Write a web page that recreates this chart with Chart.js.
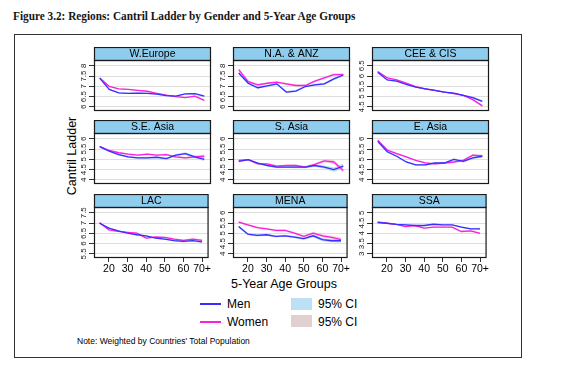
<!DOCTYPE html>
<html>
<head>
<meta charset="utf-8">
<script src="https://cdn.jsdelivr.net/npm/chart.js@4.4.1/dist/chart.umd.min.js"></script>
<style>
	body {
		margin: 0;
		background: #fff;
		width: 581px;
		height: 368px;
		position: relative;
		overflow: hidden;
		font-family: "Liberation Sans", Arial, sans-serif;
		color: #000;
	}
	#title { position: absolute; left: 13px; top: 9px; font: bold 11.8px "Liberation Serif", serif; color: #151515; transform: scaleX(0.955); transform-origin: left center; }
	#box { position: absolute; left: 14px; top: 34px; width: 506px; height: 322px; border: 1px solid #333; }
	canvas { position: absolute; }
	.txt { position: absolute; white-space: nowrap; }
	.sw { position: absolute; }
</style>
</head>
<body>
<div id="title">Figure 3.2: Regions: Cantril Ladder by Gender and 5-Year Age Groups</div>
<div id="box"></div>
<div class="txt" style="left:72px;top:156px;font-size:12.5px;transform:translate(-50%,-50%) rotate(-90deg);">Cantril Ladder</div>
<div class="txt" style="left:284px;top:284px;font-size:12.5px;transform:translate(-50%,-50%);">5-Year Age Groups</div>
<div class="sw" style="left:200px;top:303px;width:21px;height:1.5px;background:#3b2cff;"></div>
<div class="txt" style="left:227px;top:297px;font-size:12px;">Men</div>
<div class="sw" style="left:291px;top:298px;width:21px;height:12px;background:#bde0f5;"></div>
<div class="txt" style="left:318px;top:297px;font-size:12px;">95% CI</div>
<div class="sw" style="left:200px;top:321px;width:21px;height:1.5px;background:#ff1ee0;"></div>
<div class="txt" style="left:227px;top:315px;font-size:12px;">Women</div>
<div class="sw" style="left:291px;top:315px;width:21px;height:12px;background:#e2cfcf;"></div>
<div class="txt" style="left:318px;top:315px;font-size:12px;">95% CI</div>
<div class="txt" style="left:77px;top:336px;font-size:8.5px;">Note: Weighted by Countries' Total Population</div>

<script type="text/javascript">
	// age groups (15-19 ... 70+)
	var ages = [15, 20, 25, 30, 35, 40, 45, 50, 55, 60, 65, 70];
	var xTicks = [20, 30, 40, 50, 60, 70];
	var regions = ['W.Europe', 'N.A. & ANZ', 'CEE & CIS', 'S.E. Asia', 'S. Asia', 'E. Asia', 'LAC', 'MENA', 'SSA'];
	// lowest tick label of each panel (5 ticks, 0.5 apart)
	var axisLow = [6, 6, 4.5, 4, 4, 4, 5.5, 4, 3];

	var menWEurope   = [7.40, 6.85, 6.68, 6.66, 6.67, 6.66, 6.62, 6.55, 6.52, 6.63, 6.64, 6.52];
	var womenWEurope = [7.40, 7.00, 6.88, 6.85, 6.80, 6.76, 6.66, 6.57, 6.50, 6.45, 6.52, 6.32];
	var menNAANZ     = [7.65, 7.15, 6.93, 7.02, 7.12, 6.72, 6.77, 6.99, 7.07, 7.12, 7.36, 7.55];
	var womenNAANZ   = [7.81, 7.23, 7.07, 7.15, 7.20, 7.12, 7.04, 7.04, 7.25, 7.41, 7.57, 7.57];
	var menCEE       = [6.18, 5.81, 5.75, 5.59, 5.46, 5.38, 5.30, 5.22, 5.17, 5.06, 4.95, 4.77];
	var womenCEE     = [6.22, 5.91, 5.81, 5.65, 5.49, 5.38, 5.30, 5.22, 5.14, 5.06, 4.85, 4.55];
	var menSEAsia    = [5.62, 5.40, 5.23, 5.12, 5.07, 5.07, 5.10, 5.03, 5.20, 5.28, 5.12, 5.00];
	var womenSEAsia  = [5.62, 5.43, 5.32, 5.25, 5.20, 5.25, 5.20, 5.23, 5.12, 5.07, 5.12, 5.15];
	var menSAsia     = [4.90, 4.98, 4.82, 4.70, 4.62, 4.62, 4.62, 4.62, 4.70, 4.62, 4.50, 4.67];
	var womenSAsia   = [4.95, 4.98, 4.78, 4.78, 4.67, 4.70, 4.70, 4.62, 4.75, 4.92, 4.87, 4.45];
	var menEAsia     = [5.87, 5.37, 5.15, 4.87, 4.73, 4.73, 4.82, 4.82, 5.00, 4.90, 5.07, 5.15];
	var womenEAsia   = [5.93, 5.45, 5.28, 5.12, 4.95, 4.83, 4.78, 4.82, 4.87, 4.95, 5.20, 5.17];
	var menLAC       = [6.99, 6.75, 6.62, 6.51, 6.43, 6.38, 6.27, 6.22, 6.14, 6.11, 6.14, 6.08];
	var womenLAC     = [7.02, 6.67, 6.59, 6.55, 6.51, 6.27, 6.32, 6.30, 6.22, 6.16, 6.22, 6.16];
	var menMENA      = [5.33, 4.96, 4.90, 4.93, 4.85, 4.88, 4.82, 4.74, 4.88, 4.69, 4.64, 4.64];
	var womenMENA    = [5.55, 5.41, 5.28, 5.22, 5.14, 5.14, 5.01, 4.85, 5.01, 4.88, 4.80, 4.69];
	var menSSA       = [4.52, 4.49, 4.44, 4.41, 4.38, 4.38, 4.44, 4.41, 4.41, 4.30, 4.22, 4.22];
	var womenSSA     = [4.55, 4.49, 4.44, 4.33, 4.38, 4.25, 4.30, 4.30, 4.30, 4.09, 4.12, 4.00];

	// half width of the 95% CI
	var ciWEurope = [0.04, 0.03, 0.03, 0.03, 0.03, 0.03, 0.03, 0.03, 0.03, 0.03, 0.04, 0.05];
	var ciNAANZ   = [0.08, 0.06, 0.05, 0.05, 0.05, 0.05, 0.05, 0.05, 0.05, 0.05, 0.06, 0.07];
	var ciCEE     = [0.04, 0.03, 0.03, 0.03, 0.03, 0.03, 0.03, 0.03, 0.03, 0.03, 0.04, 0.05];
	var ciSEAsia  = [0.05, 0.04, 0.04, 0.04, 0.04, 0.04, 0.04, 0.05, 0.05, 0.06, 0.07, 0.08];
	var ciSAsia   = [0.05, 0.04, 0.04, 0.04, 0.04, 0.04, 0.05, 0.05, 0.06, 0.08, 0.10, 0.12];
	var ciEAsia   = [0.06, 0.05, 0.04, 0.04, 0.04, 0.04, 0.04, 0.04, 0.05, 0.05, 0.06, 0.07];
	var ciLAC     = [0.04, 0.03, 0.03, 0.03, 0.03, 0.03, 0.03, 0.03, 0.04, 0.04, 0.04, 0.05];
	var ciMENA    = [0.06, 0.05, 0.05, 0.05, 0.05, 0.05, 0.06, 0.06, 0.07, 0.07, 0.08, 0.09];
	var ciSSA     = [0.03, 0.03, 0.03, 0.03, 0.03, 0.03, 0.03, 0.03, 0.03, 0.04, 0.04, 0.05];

	var menData   = [menWEurope, menNAANZ, menCEE, menSEAsia, menSAsia, menEAsia, menLAC, menMENA, menSSA];
	var womenData = [womenWEurope, womenNAANZ, womenCEE, womenSEAsia, womenSAsia, womenEAsia, womenLAC, womenMENA, womenSSA];
	var ciData    = [ciWEurope, ciNAANZ, ciCEE, ciSEAsia, ciSAsia, ciEAsia, ciLAC, ciMENA, ciSSA];

	var MEN = '#3b2cff', WOMEN = '#ff1ee0';
	var HEAD = 13, YW = 24;
	var colLeft = [94, 233, 372];
	var rowTop = [47, 120, 194];
	var plotW = 117, plotH = 51;

	function pts(vals, ci, sign) {
		return ages.map(function(a, i) { return { x: a, y: vals[i] + sign * ci[i] }; });
	}
	function fmt(v) { return String(Math.round(v * 10) / 10); }

	// header strip, frame and vertical y labels
	var panelFrame = {
		id: 'panelFrame',
		afterDraw: function(chart, args, opts) {
			var a = chart.chartArea, ctx = chart.ctx;
			ctx.save();
			ctx.fillStyle = '#8fcdee';
			ctx.fillRect(a.left, a.top - HEAD, a.right - a.left, HEAD);
			ctx.strokeStyle = '#1a1a1a';
			ctx.lineWidth = 1.2;
			ctx.strokeRect(a.left + 0.5, a.top - HEAD + 0.5, a.right - a.left - 1, HEAD);
			ctx.strokeRect(a.left + 0.5, a.top + 0.5, a.right - a.left - 1, a.bottom - a.top - 1);
			ctx.fillStyle = '#000';
			ctx.textAlign = 'center';
			ctx.textBaseline = 'middle';
			ctx.font = '10.5px "Liberation Sans", Arial';
			ctx.fillText(opts.label, (a.left + a.right) / 2, a.top - HEAD / 2 + 0.5);
			var ys = chart.scales.y;
			ctx.font = '8px "Liberation Sans", Arial';
			ctx.fillStyle = '#222';
			ys.ticks.forEach(function(t) {
				var py = ys.getPixelForValue(t.value);
				ctx.save();
				ctx.translate(a.left - 10, py);
				ctx.rotate(-Math.PI / 2);
				ctx.fillText(fmt(t.value), 0, 0);
				ctx.restore();
			});
			ctx.restore();
		}
	};

	regions.forEach(function(name, k) {
		var row = Math.floor(k / 3), col = k % 3;
		var bottom = row === 2;
		var xh = bottom ? 18 : 1;
		var cv = document.createElement('canvas');
		var w = YW + plotW + 1, h = HEAD + plotH + xh;
		cv.width = w; cv.height = h;
		cv.style.left = (colLeft[col] - YW) + 'px';
		cv.style.top = rowTop[row] + 'px';
		cv.style.width = w + 'px'; cv.style.height = h + 'px';
		document.body.appendChild(cv);

		var lo = axisLow[k];
		var men = menData[k], women = womenData[k], ci = ciData[k];
		new Chart(cv, {
			type: 'line',
			data: {
				datasets: [
					{ data: pts(men, ci, 0), borderColor: MEN, borderWidth: 1.3, order: 0 },
					{ data: pts(women, ci, 0), borderColor: WOMEN, borderWidth: 1.3, order: 0 },
					{ data: pts(men, ci, 1), borderWidth: 0, order: 3, fill: false },
					{ data: pts(men, ci, -1), borderWidth: 0, order: 3, fill: '-1', backgroundColor: 'rgba(170,215,245,0.85)' },
					{ data: pts(women, ci, 1), borderWidth: 0, order: 2, fill: false },
					{ data: pts(women, ci, -1), borderWidth: 0, order: 2, fill: '-1', backgroundColor: 'rgba(215,190,190,0.6)' }
				]
			},
			options: {
				responsive: false,
				animation: false,
				devicePixelRatio: 1,
				layout: { padding: { top: HEAD, right: 1, left: 0, bottom: 0 } },
				elements: { point: { radius: 0 }, line: { tension: 0 } },
				plugins: {
					legend: { display: false },
					tooltip: { enabled: false },
					panelFrame: { label: name }
				},
				scales: {
					x: {
						type: 'linear',
						min: 12,
						max: 73.5,
						display: true,
						afterBuildTicks: function(s) { s.ticks = xTicks.map(function(v) { return { value: v }; }); },
						afterFit: function(s) { s.height = xh; },
						grid: { display: bottom, drawOnChartArea: false, tickLength: 4, tickColor: '#333' },
						border: { display: false },
						ticks: {
							display: bottom,
							padding: 1,
							minRotation: 0,
							maxRotation: 0,
							autoSkip: false,
							color: '#000',
							font: { family: '"Liberation Sans", Arial', size: 10.5 },
							callback: function(v) { return v === 70 ? '70+' : String(v); }
						}
					},
					y: {
						min: lo - 0.2,
						max: lo + 2.28,
						afterBuildTicks: function(s) { s.ticks = [0, 0.5, 1, 1.5, 2].map(function(d) { return { value: lo + d }; }); },
						afterFit: function(s) { s.width = YW; },
						grid: { color: '#dedede', lineWidth: 1, tickLength: 5, tickColor: '#333' },
						border: { display: false },
						ticks: { display: false }
					}
				}
			},
			plugins: [panelFrame]
		});
	});
</script>
</body>
</html>
